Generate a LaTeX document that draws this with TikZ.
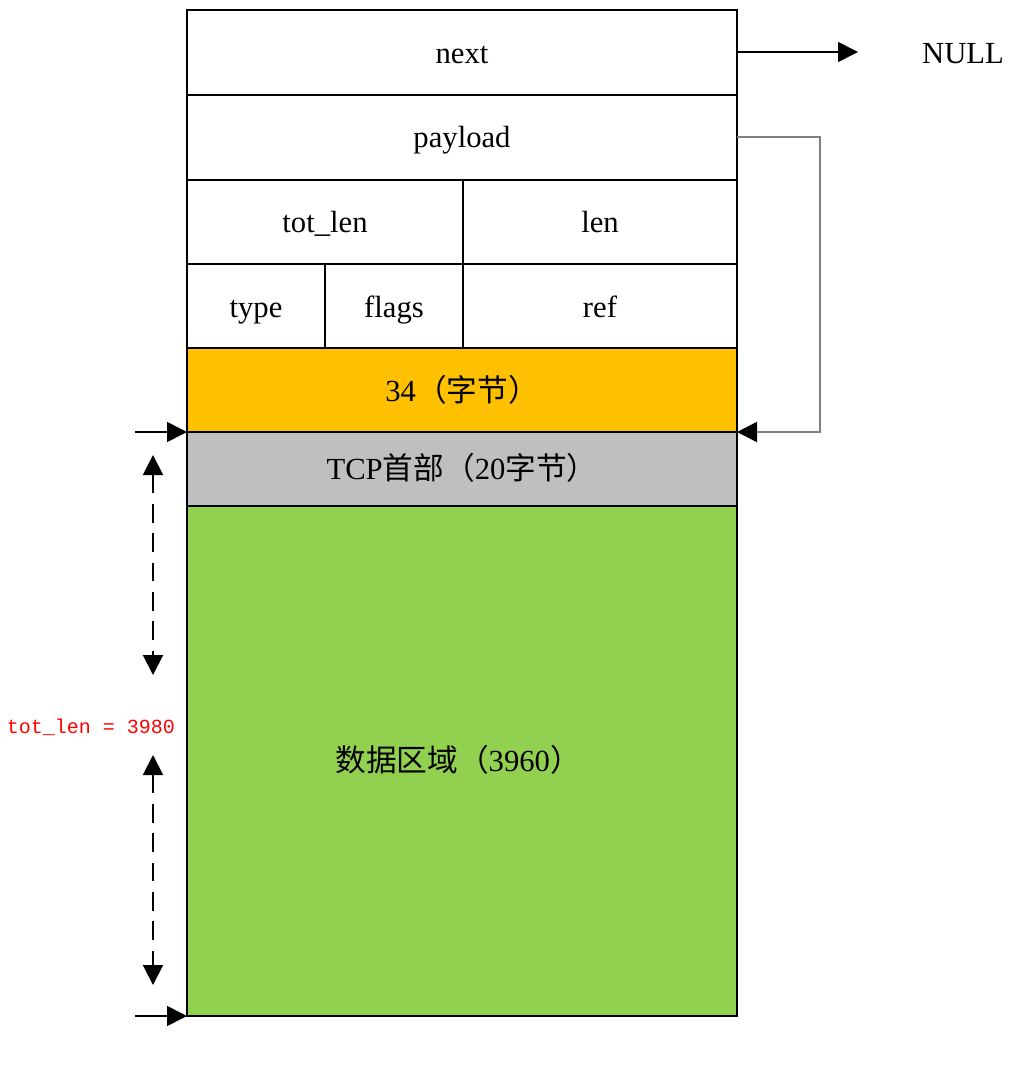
\documentclass[tikz,border=0pt]{standalone}
\usepackage{fontspec}
\setmainfont{Liberation Serif}
\setmonofont{Liberation Mono}
\newfontfamily\cjk{Noto Sans CJK SC}
\usetikzlibrary{arrows.meta}
\definecolor{cOrange}{HTML}{FFC000}
\definecolor{cGray}{HTML}{BFBFBF}
\definecolor{cGreen}{HTML}{92D050}
\definecolor{cLine}{HTML}{808080}
\begin{document}
\begin{tikzpicture}[x=0.75pt,y=-0.75pt,
  cell/.style={draw=black,line width=1pt},
  lbl/.style={font=\fontsize{23}{26}\selectfont,text height=16pt,text depth=5pt,inner sep=0pt},
  arr/.style={line width=1.2pt,-{Triangle[length=15pt,width=15pt]}},
  darr/.style={line width=1.5pt,dash pattern=on 14pt off 8pt,{Triangle[length=15pt,width=15pt]}-{Triangle[length=15pt,width=15pt]}}]
\useasboundingbox (0,0) rectangle (1020,1067);
% cells
\draw[cell] (187,10) rectangle (737,95);
\draw[cell] (187,95) rectangle (737,180);
\draw[cell] (187,180) rectangle (463,264);
\draw[cell] (463,180) rectangle (737,264);
\draw[cell] (187,264) rectangle (325,348);
\draw[cell] (325,264) rectangle (463,348);
\draw[cell] (463,264) rectangle (737,348);
\draw[cell,fill=cOrange] (187,348) rectangle (737,432);
\draw[cell,fill=cGray] (187,432) rectangle (737,506);
\draw[cell,fill=cGreen] (187,506) rectangle (737,1016);
\node[lbl] (next) at (462,56) {next};
\node[lbl] (payload) at (462,140) {payload};
\node[lbl] (totlen) at (325,225) {tot\_len};
\node[lbl] (len) at (600,225) {len};
\node[lbl] (type) at (256,310) {type};
\node[lbl] (flags) at (394,310) {flags};
\node[lbl] (ref) at (600,310) {ref};
\node[lbl] (hdr) at (462,394) {34{\cjk （字节）}};
\node[lbl] (tcp) at (462,472) {TCP{\cjk 首部（}20{\cjk 字节）}};
\node[lbl] (data) at (458,764) {{\cjk 数据区域（}3960{\cjk ）}};
% coordinates
\coordinate (nextR) at (737,52);
\coordinate (nullL) at (858,52);
\node[lbl] (null) at (963,56) {NULL};
\coordinate (payR) at (737,137);
\coordinate (turn1) at (820,137);
\coordinate (turn2) at (820,432);
\coordinate (dataTop) at (737,432);
\coordinate (la) at (135,432);
\coordinate (lb) at (187,432);
\coordinate (lc) at (135,1016);
\coordinate (ld) at (187,1016);
\coordinate (d1a) at (153,455);
\coordinate (d1b) at (153,675);
\coordinate (d2a) at (153,755);
\coordinate (d2b) at (153,985);
% connectors
\draw[arr] (nextR) -- (nullL);
\draw[line width=1.5pt,draw=cLine,-{Triangle[length=15pt,width=15pt,color=black]}] (payR) -- (turn1) -- (turn2) -- (dataTop);
\draw[arr] (la) -- (lb);
\draw[arr] (lc) -- (ld);
\draw[darr] (d1a) -- (d1b);
\draw[darr] (d2a) -- (d2b);
\node[text=red,font=\ttfamily\fontsize{15}{18}\selectfont] (tl) at (91,727) {tot\_len = 3980};
\end{tikzpicture}
\end{document}
